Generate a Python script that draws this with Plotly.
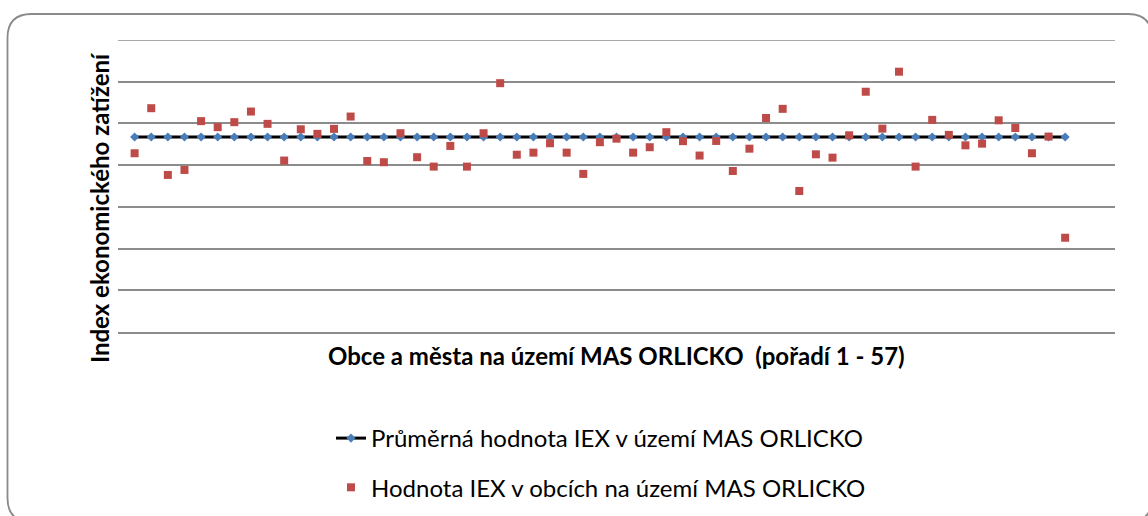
import plotly.graph_objects as go

# ---- data ----
poradi = list(range(1, 58))
hodnota_iex = [0.857, 1.073, 0.753, 0.777, 1.011, 0.982, 1.006, 1.057, 0.998, 0.822,
               0.972, 0.950, 0.974, 1.033, 0.820, 0.814, 0.953, 0.838, 0.793, 0.892,
               0.793, 0.953, 1.193, 0.850, 0.860, 0.905, 0.860, 0.758, 0.910, 0.927,
               0.860, 0.886, 0.958, 0.915, 0.846, 0.916, 0.772, 0.879, 1.026, 1.070,
               0.676, 0.852, 0.836, 0.943, 1.152, 0.975, 1.248, 0.793, 1.017, 0.945,
               0.895, 0.903, 1.015, 0.978, 0.857, 0.937, 0.452]
prumer_iex = [0.935] * 57
y_top = 1.4

x_title = "Obce a města na území MAS ORLICKO  (pořadí 1 - 57)"
y_title = "Index ekonomického zatížení"
name_mean = "Průměrná hodnota IEX v území MAS ORLICKO"
name_vals = "Hodnota IEX v obcích na území MAS ORLICKO"

# ---- layout geometry (pixels) ----
W, H = 1148, 516
L, R, T, B = 118, 1115, 40, 332
pw, ph = R - L, B - T
FONT = "Lato, Carlito, sans-serif"
GRID = "#8c8c8c"


def px(x):
    return (x - L) / pw


def py(y):
    return (B - y) / ph


fig = go.Figure()
fig.add_trace(go.Scatter(
    x=poradi, y=prumer_iex, mode="lines+markers", name=name_mean,
    line=dict(color="black", width=3),
    marker=dict(symbol="diamond", size=7, color="#4A7EBB"),
    legendgroup="a",
))
fig.add_trace(go.Scatter(
    x=poradi, y=hodnota_iex, mode="markers", name=name_vals,
    marker=dict(symbol="square", size=8, color="#BE4B48"),
    legendgroup="b",
))

# rounded chart border
bl, bt, br, bb, rad = 7.5, 14, 1152, 522, 24
path = (
    f"M {px(bl)},{py(bt + rad)} "
    f"Q {px(bl)},{py(bt)} {px(bl + rad)},{py(bt)} "
    f"L {px(br - rad)},{py(bt)} "
    f"Q {px(br)},{py(bt)} {px(br)},{py(bt + rad)} "
    f"L {px(br)},{py(bb - rad)} "
    f"Q {px(br)},{py(bb)} {px(br - rad)},{py(bb)} "
    f"L {px(bl + rad)},{py(bb)} "
    f"Q {px(bl)},{py(bb)} {px(bl)},{py(bb - rad)} Z"
)

fig.update_layout(
    width=W, height=H,
    margin=dict(l=L, r=W - R, t=T, b=H - B, autoexpand=False),
    paper_bgcolor="white", plot_bgcolor="white",
    font=dict(family=FONT, color="black"),
    xaxis=dict(range=[0, 60], showgrid=False, showticklabels=False, ticks="",
               showline=True, linecolor=GRID, linewidth=1.5, zeroline=False,
               fixedrange=True),
    yaxis=dict(range=[0, y_top], tick0=0, dtick=0.2, showgrid=True, gridcolor=GRID,
               gridwidth=1.5, showticklabels=False, ticks="", zeroline=False,
               showline=False, fixedrange=True),
    showlegend=True,
    legend=dict(x=px(331), y=py(416), xanchor="left", yanchor="top",
                orientation="v", traceorder="grouped", tracegroupgap=15,
                font=dict(family=FONT, size=24, color="black"),
                bgcolor="rgba(0,0,0,0)"),
    shapes=[
        dict(type="path", path=path, xref="paper", yref="paper",
             line=dict(color="#8a8a8a", width=1.8), fillcolor="rgba(0,0,0,0)",
             layer="below"),
        dict(type="line", xref="paper", yref="y", x0=0, x1=1, y0=y_top, y1=y_top,
             line=dict(color=GRID, width=1.5), layer="below"),
    ],
    annotations=[
        dict(text=f"<b>{x_title}</b>", xref="paper", yref="paper",
             x=px(616.5), y=py(356), xanchor="center", yanchor="middle",
             showarrow=False, font=dict(size=24, family=FONT)),
        dict(text=f"<b>{y_title}</b>", xref="paper", yref="paper",
             x=px(99), y=py(208), xanchor="center", yanchor="middle",
             textangle=-90, showarrow=False,
             font=dict(size=24, family=FONT)),
    ],
)

fig.write_html("out.html", config={"displayModeBar": False},
               post_script="document.body.style.margin='0';document.body.style.padding='0';")
